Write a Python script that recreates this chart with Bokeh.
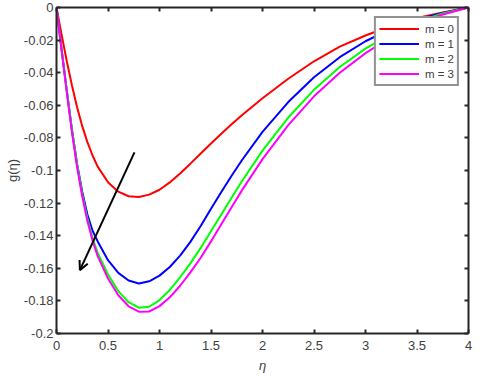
from bokeh.plotting import figure
from bokeh.models import (Range1d, LinearAxis, FixedTicker, CustomJSTickFormatter,
                          Arrow, OpenHead, Legend, LegendItem)
from bokeh.embed import file_html
from bokeh.resources import INLINE

# ---- data ----
eta = [0.0, 0.05, 0.1, 0.15, 0.2, 0.25, 0.3, 0.35, 0.4, 0.5, 0.6, 0.7, 0.8, 0.9,
       1.0, 1.1, 1.2, 1.3, 1.4, 1.5, 1.6, 1.7, 1.8, 2.0, 2.25, 2.5, 2.75, 3.0,
       3.25, 3.5, 3.75, 4.0]

g_m0 = [0.0, -0.0168, -0.0330, -0.0478, -0.0612, -0.0728, -0.0826, -0.0908, -0.0976,
        -0.1072, -0.1130, -0.1158, -0.1163, -0.1148, -0.1118, -0.1073, -0.1018,
        -0.0958, -0.0896, -0.0834, -0.0774, -0.0716, -0.0661, -0.0557, -0.0437,
        -0.0330, -0.0240, -0.0172, -0.0112, -0.0065, -0.0030, 0.0]

g_m1 = [0.0, -0.0260, -0.0510, -0.0750, -0.0960, -0.1130, -0.1270, -0.1370, -0.1435,
        -0.1550, -0.1628, -0.1675, -0.1693, -0.1680, -0.1645, -0.1592, -0.1522,
        -0.1438, -0.1340, -0.1235, -0.1132, -0.1032, -0.0937, -0.0763, -0.0580,
        -0.0428, -0.0305, -0.0207, -0.0130, -0.0074, -0.0033, 0.0]

g_m2 = [0.0, -0.0260, -0.0510, -0.0750, -0.0965, -0.1145, -0.1295, -0.1415, -0.1505,
        -0.1638, -0.1740, -0.1808, -0.1842, -0.1836, -0.1795, -0.1733, -0.1655,
        -0.1570, -0.1475, -0.1373, -0.1270, -0.1167, -0.1066, -0.0878, -0.0675,
        -0.0505, -0.0365, -0.0252, -0.0160, -0.0088, -0.0037, 0.0]

g_m3 = [0.0, -0.0265, -0.0520, -0.0765, -0.0980, -0.1160, -0.1310, -0.1430, -0.1525,
        -0.1663, -0.1765, -0.1833, -0.1866, -0.1865, -0.1832, -0.1778, -0.1707,
        -0.1625, -0.1535, -0.1435, -0.1330, -0.1225, -0.1122, -0.0930, -0.0722,
        -0.0545, -0.0400, -0.0280, -0.0180, -0.0100, -0.0043, 0.0]

series_labels = ["m = 0", "m = 1", "m = 2", "m = 3"]
series_colors = ["#FF0000", "#0000FF", "#00FF00", "#FF00FF"]

x_ticks = [0, 0.5, 1, 1.5, 2, 2.5, 3, 3.5, 4]
x_tick_labels = ["0", "0.5", "1", "1.5", "2", "2.5", "3", "3.5", "4"]
y_ticks = [-0.2, -0.18, -0.16, -0.14, -0.12, -0.1, -0.08, -0.06, -0.04, -0.02, 0]
y_tick_labels = ["-0.2", "-0.18", "-0.16", "-0.14", "-0.12", "-0.1", "-0.08",
                 "-0.06", "-0.04", "-0.02", "0"]

arrow_start = (0.757, -0.0889)
arrow_end = (0.227, -0.1611)

FONT = "Liberation Sans"
AX = "#262626"
TXT = "#404040"

p = figure(width=480, height=377, x_range=Range1d(0, 4), y_range=Range1d(-0.2, 0),
           output_backend="svg", toolbar_location=None, tools="",
           min_border_left=56, min_border_right=12, min_border_top=7,
           min_border_bottom=44, background_fill_color="white",
           border_fill_color="white")
p.grid.visible = False
p.outline_line_color = None

renderers = []
for ys, c in zip([g_m0, g_m1, g_m2, g_m3], series_colors):
    r = p.line(eta, ys, line_color=c, line_width=2)
    renderers.append(r)

p.add_layout(Arrow(end=OpenHead(size=9, line_width=2, line_color="black"),
                   x_start=arrow_start[0], y_start=arrow_start[1],
                   x_end=arrow_end[0], y_end=arrow_end[1],
                   line_width=2, line_color="black"))

def style(ax):
    ax.axis_line_color = AX
    ax.axis_line_width = 2
    ax.major_tick_line_color = AX
    ax.major_tick_line_width = 2
    ax.major_tick_in = 4
    ax.major_tick_out = 0
    ax.minor_tick_line_color = None
    ax.major_label_text_font = FONT
    ax.major_label_text_font_size = "13px"
    ax.major_label_text_color = TXT
    ax.axis_label_text_font = FONT
    ax.axis_label_text_font_size = "13px"
    ax.axis_label_text_color = TXT

xa = p.xaxis[0]
xa.ticker = FixedTicker(ticks=x_ticks)
xa.major_label_overrides = dict(zip(x_ticks, x_tick_labels))
style(xa)
xa.major_label_standoff = 7
xa.axis_label = "η"
xa.axis_label_text_font_style = "italic"
xa.axis_label_standoff = 5

ya = p.yaxis[0]
ya.ticker = FixedTicker(ticks=y_ticks)
ya.major_label_overrides = dict(zip(y_ticks, y_tick_labels))
style(ya)
ya.major_label_standoff = 3
ya.axis_label = "g(η)"
ya.axis_label_text_font_style = "normal"
ya.axis_label_standoff = 1

blank = CustomJSTickFormatter(code="return ''")
top = LinearAxis(ticker=FixedTicker(ticks=x_ticks), formatter=blank)
style(top)
top.major_label_standoff = 0
top.major_label_text_font_size = "1px"
p.add_layout(top, "above")
right = LinearAxis(ticker=FixedTicker(ticks=y_ticks), formatter=blank)
style(right)
right.major_label_standoff = 0
right.major_label_text_font_size = "1px"
p.add_layout(right, "right")

legend = Legend(items=[LegendItem(label=l, renderers=[r]) for l, r in zip(series_labels, renderers)],
                location="top_right", margin=9, padding=3, spacing=0,
                glyph_width=40, glyph_height=15, label_height=15, label_standoff=6,
                label_text_font=FONT, label_text_font_size="11.5px", label_text_color=TXT,
                border_line_color=AX, border_line_width=2,
                background_fill_color="white", background_fill_alpha=1)
p.add_layout(legend)

open("out.html", "w").write(file_html(p, INLINE))
